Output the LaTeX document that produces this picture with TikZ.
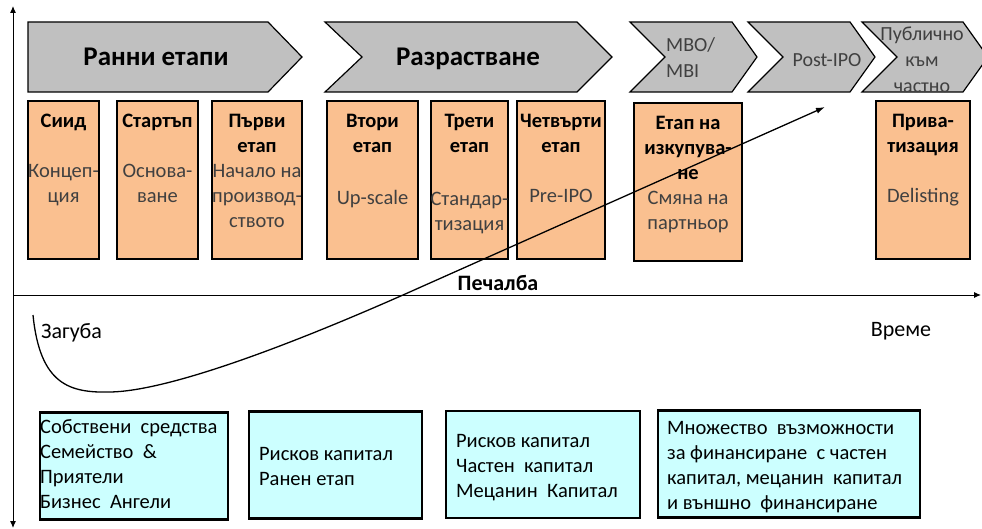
\documentclass[tikz,border=0pt]{standalone}
\usepackage{fontspec}
\setmainfont{Carlito}
\usetikzlibrary{arrows.meta,positioning}
\definecolor{chevgray}{HTML}{C0C0C0}
\definecolor{stageor}{HTML}{FAC090}
\definecolor{fundcyan}{HTML}{CCFFFF}
\definecolor{txtgray}{HTML}{404040}
\newcommand{\gt}[1]{\textcolor{txtgray}{#1}}
\tikzset{
  chev/.style    = {draw, line width=1.2pt, fill=chevgray, line join=miter},
  phase/.style   = {font=\fontsize{27}{30}\selectfont\bfseries, inner sep=0pt, anchor=base},
  subphase/.style= {font=\fontsize{20}{26}\selectfont, text=txtgray, inner sep=0pt},
  stagebox/.style= {draw, line width=1.6pt, fill=stageor, minimum height=158pt, inner sep=0pt},
  stxt/.style    = {font=\fontsize{20.5}{25}\selectfont, align=center, inner sep=0pt},
  fund/.style    = {draw, line width=2.2pt, fill=fundcyan, minimum height=107pt, inner sep=0pt},
  ftxt/.style    = {font=\fontsize{20.5}{25}\selectfont, align=left, inner sep=0pt},
  axis/.style    = {-{Latex[length=7pt,width=6pt]}, line width=1pt},
  lbl/.style     = {font=\fontsize{22}{24}\selectfont, inner sep=0pt},
  curve/.style   = {-{Latex[length=9pt,width=6pt]}, line width=1.3pt}
}

\begin{document}
\begin{tikzpicture}[x=1pt, y=-1pt]
  \useasboundingbox (0,0) rectangle (982,529);

  % phases
  \draw[chev] (28,22) -- (268,22) -- (302,57) -- (268,92) -- (28,92) -- cycle;
  \draw[chev] (325,22) -- (577,22) -- (612,57) -- (577,92) -- (325,92) -- (362,57) -- cycle;
  \draw[chev] (630,22) -- (732,22) -- (757,57) -- (732,92) -- (630,92) -- (665,57) -- cycle;
  \draw[chev] (748,22) -- (850,22) -- (875,57) -- (850,92) -- (748,92) -- (783,57) -- cycle;
  \draw[chev] (862,22) -- (963,22) -- (988,57) -- (963,92) -- (862,92) -- (897,57) -- cycle;
  \node[phase] (early)  at (156,66) {Ранни етапи};
  \node[phase] (growth) at (468,66) {Разрастване};
  \node[subphase, align=left, anchor=west] (mbo) at (666,58) {MBO/\\MBI};
  \node[subphase] (postipo) at (827,60) {Post-IPO};
  \node[subphase, align=center] (p2p) at (922,60) {Публично\\към\\частно};

  % stages
  \node[stagebox, minimum width=71pt]  (seed)   at (63.5,180) {};
  \node[stagebox, minimum width=81pt]  (start)  at (157.5,180) {};
  \node[stagebox, minimum width=90pt]  (first)  at (257,180) {};
  \node[stagebox, minimum width=91pt]  (second) at (372.5,180) {};
  \node[stagebox, minimum width=77pt]  (third)  at (469.5,180) {};
  \node[stagebox, minimum width=88pt]  (fourth) at (561,180) {};
  \node[stagebox, minimum width=108pt] (buyout) at (688,182) {};
  \node[stagebox, minimum width=94pt]  (priv)   at (923,180) {};

  \node[stxt, below=10pt of seed.north]   (seedt)   {\strut\textbf{Сиид}\\[25pt]\gt{Концеп-}\\\gt{ция}};
  \node[stxt, below=10pt of start.north]  (startt)  {\strut\textbf{Стартъп}\\[25pt]\gt{Основа-}\\\gt{ване}};
  \node[stxt, below=10pt of first.north]  (firstt)  {\strut\textbf{Първи}\\\textbf{етап}\\\gt{Начало на}\\\gt{производ-}\\\gt{ството}};
  \node[stxt, below=10pt of second.north] (secondt) {\strut\textbf{Втори}\\\textbf{етап}\\[27pt]\gt{Up-scale}};
  \node[stxt, below=10pt of third.north]  (thirdt)  {\strut\textbf{Трети}\\\textbf{етап}\\[28pt]\gt{Стандар-}\\\gt{тизация}};
  \node[stxt, below=10pt of fourth.north] (fourtht) {\strut\textbf{Четвърти}\\\textbf{етап}\\[25pt]\gt{Pre-IPO}};
  \node[stxt, below=10pt of buyout.north] (buyoutt) {\strut\textbf{Етап на}\\\textbf{изкупува-}\\\textbf{не}\\\gt{Смяна на}\\\gt{партньор}};
  \node[stxt, below=10pt of priv.north]   (privt)   {\strut\textbf{Прива-}\\\textbf{тизация}\\[25pt]\gt{Delisting}};

  % financing
  \node[fund, minimum width=188pt] (own)   at (134,466) {};
  \node[fund, minimum width=173pt] (vc)    at (335.5,465) {};
  \node[fund, minimum width=194pt] (pe)    at (543,464.5) {};
  \node[fund, minimum width=262pt] (many)  at (789,464) {};
  \node[ftxt, right=1pt of own.west]   (ownt)  {\strut Собствени\ \ средства\\Семейство\ \ \&\\Приятели\\Бизнес\ \ Ангели\strut};
  \node[ftxt, right=11pt of vc.west, yshift=-3pt]   (vct)   {\strut Рисков капитал\\Ранен етап\strut};
  \node[ftxt, right=11pt of pe.west, yshift=-3pt]   (pet)   {\strut Рисков капитал\\Частен\ \ капитал\\Мецанин\ \ Капитал\strut};
  \node[ftxt, right=10pt of many.west, yshift=-3pt] (manyt) {\strut Множество\ \ възможности\\за финансиране\ \ с частен\\капитал, мецанин\ \ капитал\\и външно\ \ финансиране\strut};

  % axes
  \coordinate (origin) at (13,295);
  \coordinate (ytop)   at (13,6);
  \coordinate (ybot)   at (13,528);
  \coordinate (xend)   at (981,295);
  \draw[axis] (origin) -- (ytop);
  \draw[axis] (origin) -- (ybot);
  \draw[axis] (origin) -- (xend);
  \node[lbl, font=\fontsize{22}{24}\selectfont\bfseries] (profit) at (498,283) {Печалба};
  \node[lbl] (time) at (901,331) {Време};
  \node[lbl, anchor=west] (loss) at (41,333) {Загуба};

  % profit curve
  \coordinate (cstart) at (33,315);
  \coordinate (cmin)   at (110,392);
  \coordinate (czero)  at (403,295);
  \coordinate (cend)   at (825,107);
  \draw[curve] (cstart) .. controls (40,385) and (70,393) .. (cmin)
    .. controls (180,391) and (335,325) .. (czero) -- (cend);
\end{tikzpicture}
\end{document}
